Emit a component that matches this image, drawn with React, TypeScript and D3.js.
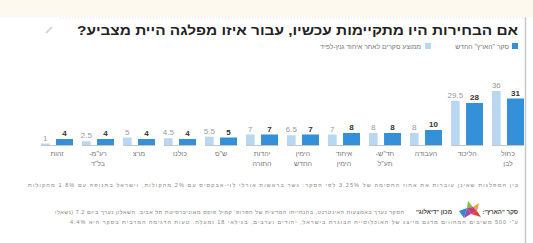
import React from "react";
import * as d3 from "d3";

// parties, right to left as in the chart
const parties = [
  "כחול לבן",
  "הליכוד",
  "העבודה",
  "חד\"ש-תע\"ל",
  "איחוד הימין",
  "הימין החדש",
  "יהדות התורה",
  "ש\"ס",
  "כולנו",
  "מרצ",
  "רע\"מ-בל\"ד",
  "זהות",
];
const partyLines = [
  ["כחול", "לבן"],
  ["הליכוד"],
  ["העבודה"],
  ["חד\"ש-", "תע\"ל"],
  ["איחוד", "הימין"],
  ["הימין", "החדש"],
  ["יהדות", "התורה"],
  ["ש\"ס"],
  ["כולנו"],
  ["מרצ"],
  ["רע\"מ-", "בל\"ד"],
  ["זהות"],
];
const pollAverage = [36, 29.5, 8, 8, 7, 6.5, 7, 5.5, 4.5, 5, 2.5, 1];
const haaretzPoll = [31, 28, 10, 8, 8, 7, 7, 5, 4, 4, 4, 4];

const legendLabels = ["סקר \"הארץ\" החדש", "ממוצע סקרים לאחר איחוד גנץ-לפיד"];

const W = 533;
const H = 243;
const font = "'Liberation Sans', 'DejaVu Sans', sans-serif";
const dark = "#3490d8";
const light = "#b9d7f0";

export default function App() {
  const x = d3
    .scaleBand<string>()
    .domain(parties)
    .range([524, 41])
    .paddingInner(0.22)
    .paddingOuter(0);
  const y = d3.scaleLinear().domain([0, 40]).range([145, 85]);
  const bw = x.bandwidth();
  const lw = bw * 0.27;
  const dx = bw * 0.47;
  const dw = bw * 0.53;

  return (
    <svg
      width={W}
      height={H}
      style={{ position: "absolute", left: 0, top: 0, background: "#fff" }}
      fontFamily={font}
    >
      <rect x={0} y={0} width={W} height={17} fill="#fdf9ef" />
      <line x1={60} x2={525} y1={18} y2={18} stroke="#e4e4e4" strokeDasharray="1,2" />
      <line x1={525.5} x2={525.5} y1={17} y2={H} stroke="#c8c8c8" strokeWidth={1.5} />
      <line x1={46} y1={33} x2={52} y2={27} stroke="#d6d6d6" strokeWidth={2} />

      <text
        x={518}
        y={35}
        direction="rtl"
        textAnchor="start"
        fontSize={13}
        fontWeight="bold"
        fill="#222"
        textLength={441}
        lengthAdjust="spacingAndGlyphs"
      >
        אם הבחירות היו מתקיימות עכשיו, עבור איזו מפלגה היית מצביע?
      </text>

      {/* legend */}
      <rect x={512} y={43} width={6} height={6} fill={dark} />
      <text x={509} y={48.5} direction="rtl" textAnchor="start" fontSize={6.8} fill="#777">
        {legendLabels[0]}
      </text>
      <rect x={425} y={43} width={6} height={6} fill={light} />
      <text x={421} y={48.5} direction="rtl" textAnchor="start" fontSize={6.8} fill="#777">
        {legendLabels[1]}
      </text>

      {/* bars */}
      {parties.map((p, i) => {
        const gx = x(p) as number;
        return (
          <g key={p}>
            <line x1={gx} x2={gx + bw} y1={y(0) + 0.5} y2={y(0) + 0.5} stroke="#a5adb5" strokeWidth={0.7} />
            <rect x={gx} y={y(pollAverage[i])} width={lw} height={y(0) - y(pollAverage[i])} fill={light} />
            <rect x={gx + dx} y={y(haaretzPoll[i])} width={dw} height={y(0) - y(haaretzPoll[i])} fill={dark} />
            <text
              x={gx + lw / 2}
              y={y(pollAverage[i]) - 3}
              textAnchor="middle"
              fontSize={8}
              fill="#9a9a9a"
            >
              {pollAverage[i]}
            </text>
            <text
              x={gx + dx + dw / 2}
              y={y(haaretzPoll[i]) - 3}
              textAnchor="middle"
              fontSize={8}
              fontWeight="bold"
              fill="#333"
            >
              {haaretzPoll[i]}
            </text>
            {partyLines[i].map((l, j) => (
              <text
                key={j}
                x={gx + bw / 2}
                y={156 + j * 9.5}
                textAnchor="middle"
                direction="rtl"
                fontSize={7}
                fill="#777"
              >
                {l}
              </text>
            ))}
          </g>
        );
      })}

      {/* footnote */}
      <text
        x={518}
        y={187}
        direction="rtl"
        textAnchor="start"
        fontSize={5.5}
        fill="#888"
        textLength={490}
        lengthAdjust="spacing"
      >
        בין המפלגות שאינן עוברות את אחוז החסימה של 3.25% לפי הסקר: גשר בראשות אורלי לוי-אבקסיס עם 2% מהקולות, וישראל בתנופה עם 1.8% מהקולות
      </text>

      {/* source */}
      <text x={518} y={214} direction="rtl" textAnchor="start" fontSize={6} fontWeight="bold" fill="#444">
        סקר "הארץ":
      </text>
      <g transform="translate(468,209)">
        <polygon points="0,-8 5,-2 -1,-1" fill="#7cc24a" />
        <polygon points="5,-2 11,-6 9,2" fill="#f1a12a" />
        <polygon points="9,2 13,8 3,5" fill="#e2403b" />
        <polygon points="3,5 -4,9 -1,-1" fill="#9b4fa3" />
        <polygon points="-1,-1 -9,2 -4,9" fill="#2f8bd6" />
        <polygon points="-1,-1 5,-2 9,2 3,5" fill="#c23b7a" />
      </g>
      <text x={452} y={214} direction="rtl" textAnchor="start" fontSize={6} fontWeight="bold" fill="#444">
        מכון "דיאלוג"
      </text>
      <text
        x={404}
        y={214}
        direction="rtl"
        textAnchor="start"
        fontSize={5.5}
        fill="#888"
        textLength={349}
        lengthAdjust="spacing"
      >
        הסקר נערך באמצעות האינטרנט, בהנחייתו המדעית של הפרופ' קמיל פוקס מאוניברסיטת תל אביב. השאלון נערך ביום 7.2 (נשאלו
      </text>
      <text
        x={518}
        y={224}
        direction="rtl"
        textAnchor="start"
        fontSize={5.5}
        fill="#888"
        textLength={448}
        lengthAdjust="spacing"
      >
        ע"י 500 משיבים המהווים מדגם מייצג של האוכלוסייה הבוגרת בישראל, יהודים וערבים, בגילאי 18 ומעלה. טעות הדגימה המרבית בסקר היא 4.4%
      </text>
    </svg>
  );
}
